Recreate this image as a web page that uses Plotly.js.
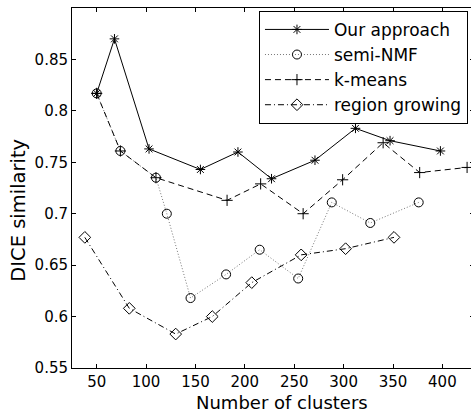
<!DOCTYPE html>
<html>
<head>
<meta charset="utf-8">
<script src="https://cdn.plot.ly/plotly-3.0.1.min.js"></script>
<style>
html, body { margin: 0; padding: 0; background: #fff; overflow: hidden; }
#chart { width: 475px; height: 412px; }
</style>
</head>
<body>
<div id="chart"></div>
<script>
var oursX = [50, 68, 103, 155, 193, 227, 271, 312, 347, 398];
var oursY = [0.817, 0.870, 0.763, 0.743, 0.760, 0.734, 0.752, 0.783, 0.771, 0.761];

var semiX = [50, 74, 110, 121, 145, 181, 215, 254, 288, 327, 376];
var semiY = [0.817, 0.761, 0.735, 0.700, 0.618, 0.641, 0.665, 0.637, 0.711, 0.691, 0.711];

var kmeansX = [50, 74, 110, 182, 216, 259, 299, 340, 377, 425];
var kmeansY = [0.817, 0.761, 0.735, 0.713, 0.729, 0.700, 0.733, 0.769, 0.740, 0.745];

var regionX = [38, 83, 130, 167, 207, 257, 302, 351];
var regionY = [0.677, 0.608, 0.583, 0.600, 0.633, 0.660, 0.666, 0.677];

var names = ["Our approach", "semi-NMF", "k-means", "region growing"];
var xTicks = [50, 100, 150, 200, 250, 300, 350, 400];
var yTicks = [0.55, 0.6, 0.65, 0.7, 0.75, 0.8, 0.85];
var yTickText = ["0.55", "0.6", "0.65", "0.7", "0.75", "0.8", "0.85"];

var font = "DejaVu Sans, Bitstream Vera Sans, sans-serif";

var traces = [
  {x: oursX, y: oursY, name: names[0], mode: "lines+markers",
   line: {color: "#000", width: 1, dash: "solid"},
   marker: {symbol: "asterisk-open", size: 8, color: "#000", line: {color: "#000", width: 1}}},
  {x: semiX, y: semiY, name: names[1], mode: "lines+markers",
   line: {color: "#777", width: 1, dash: "1px,2px"},
   marker: {symbol: "circle-open", size: 9, color: "#000", line: {color: "#000", width: 1}}},
  {x: kmeansX, y: kmeansY, name: names[2], mode: "lines+markers",
   line: {color: "#000", width: 1, dash: "6px,4px"},
   marker: {symbol: "cross-thin-open", size: 8, color: "#000", line: {color: "#000", width: 1}}},
  {x: regionX, y: regionY, name: names[3], mode: "lines+markers",
   line: {color: "#000", width: 1, dash: "6px,3px,1px,3px"},
   marker: {symbol: "diamond-open", size: 9, color: "#000", line: {color: "#000", width: 1}}}
];

var axisCommon = {
  showline: true, linecolor: "#000", linewidth: 1, mirror: "ticks",
  ticks: "inside", ticklen: 4, tickcolor: "#000", tickwidth: 1,
  showgrid: false, zeroline: false,
  tickfont: {family: font, size: 15, color: "#000"}
};

var layout = {
  width: 475, height: 412,
  margin: {l: 72, r: 1, t: 8, b: 44},
  paper_bgcolor: "#fff", plot_bgcolor: "#fff",
  showlegend: true,
  xaxis: Object.assign({}, axisCommon, {range: [25, 432], tickvals: xTicks, ticktext: xTicks.map(String)}),
  yaxis: Object.assign({}, axisCommon, {range: [0.55, 0.9], tickvals: yTicks, ticktext: yTickText}),
  legend: {
    x: 0.985, y: 0.992, xanchor: "right", yanchor: "top",
    bgcolor: "#fff", bordercolor: "#000", borderwidth: 1,
    font: {family: font, size: 17, color: "#000"},
    itemwidth: 64, tracegroupgap: 0
  },
  annotations: [
    {text: "Number of clusters", xref: "paper", yref: "paper", x: (282 - 72) / 402, y: -0.095,
     xanchor: "center", yanchor: "middle", showarrow: false,
     font: {family: font, size: 18, color: "#000"}},
    {text: "DICE similarity", xref: "paper", yref: "paper", x: -0.135, y: (368 - 210) / 360,
     xanchor: "center", yanchor: "middle", showarrow: false, textangle: -90,
     font: {family: font, size: 19.5, color: "#000"}}
  ]
};

Plotly.newPlot("chart", traces, layout, {staticPlot: true, displayModeBar: false});
</script>
</body>
</html>
